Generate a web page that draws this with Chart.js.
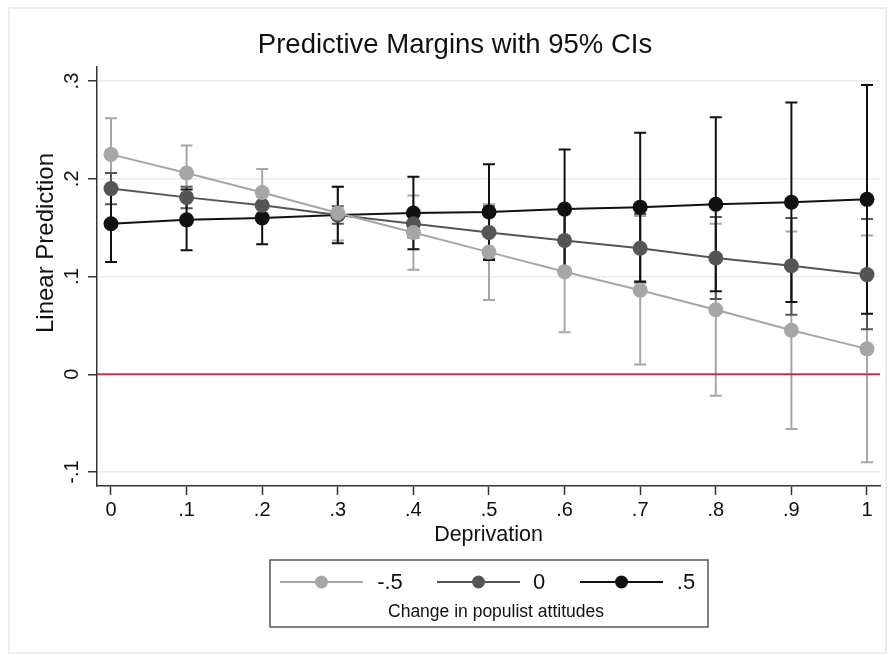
<!DOCTYPE html>
<html>
<head>
<meta charset="utf-8">
<script src="https://cdn.jsdelivr.net/npm/chart.js@4.4.1/dist/chart.umd.min.js"></script>
<style>
    html, body { margin: 0; padding: 0; background: #ffffff; }
    #wrap { width: 892px; height: 655px; }
</style>
</head>
<body>
<div id="wrap"><canvas id="marginsChart" width="892" height="655"></canvas></div>
<script>
// Deprivation values on the x axis
const deprivation = [0, 0.1, 0.2, 0.3, 0.4, 0.5, 0.6, 0.7, 0.8, 0.9, 1];
const xTickLabels = ['0', '.1', '.2', '.3', '.4', '.5', '.6', '.7', '.8', '.9', '1'];
const yTickValues = [-0.1, 0, 0.1, 0.2, 0.3];
const yTickLabels = ['-.1', '0', '.1', '.2', '.3'];

// Change in populist attitudes = -.5
const minusHalf = [0.225, 0.206, 0.186, 0.165, 0.145, 0.125, 0.105, 0.086, 0.066, 0.045, 0.026];
const minusHalfLow = [0.188, 0.178, 0.162, 0.137, 0.107, 0.076, 0.043, 0.010, -0.022, -0.056, -0.090];
const minusHalfHigh = [0.262, 0.234, 0.210, 0.192, 0.183, 0.174, 0.167, 0.162, 0.154, 0.146, 0.142];

// Change = 0
const zero = [0.190, 0.181, 0.173, 0.163, 0.154, 0.145, 0.137, 0.129, 0.119, 0.111, 0.102];
const zeroLow = [0.174, 0.170, 0.163, 0.154, 0.140, 0.118, 0.105, 0.094, 0.077, 0.061, 0.046];
const zeroHigh = [0.206, 0.192, 0.183, 0.172, 0.168, 0.172, 0.169, 0.164, 0.161, 0.160, 0.159];

// Change = .5
const plusHalf = [0.154, 0.158, 0.160, 0.163, 0.165, 0.166, 0.169, 0.171, 0.174, 0.176, 0.179];
const plusHalfLow = [0.115, 0.127, 0.133, 0.134, 0.128, 0.117, 0.108, 0.095, 0.085, 0.074, 0.062];
const plusHalfHigh = [0.193, 0.189, 0.187, 0.192, 0.202, 0.215, 0.230, 0.247, 0.263, 0.278, 0.296];

const seriesLabels = ['-.5', '0', '.5'];
const seriesColors = ['#a6a6a6', '#555555', '#111111'];
const FONT = "'Liberation Sans', Arial, Helvetica, sans-serif";

function toPoints(values) {
    return deprivation.map((x, i) => ({ x: x, y: values[i] }));
}

function makeDataset(label, values, low, high, color) {
    return {
        label: label,
        data: toPoints(values),
        ciLow: low,
        ciHigh: high,
        borderColor: color,
        backgroundColor: color,
        pointBackgroundColor: color,
        pointBorderColor: color,
        borderWidth: 2,
        pointRadius: 7.5,
        pointBorderWidth: 0,
        tension: 0,
    };
}

// confidence interval bars, drawn under the lines
const ciBars = {
    id: 'ciBars',
    beforeDatasetsDraw(chart) {
        const ctx = chart.ctx;
        const xs = chart.scales.x;
        const ys = chart.scales.y;
        ctx.save();
        chart.data.datasets.forEach(ds => {
            ctx.strokeStyle = ds.borderColor;
            ctx.lineWidth = 2;
            deprivation.forEach((d, i) => {
                const px = xs.getPixelForValue(d);
                const top = ys.getPixelForValue(ds.ciHigh[i]);
                const bottom = ys.getPixelForValue(ds.ciLow[i]);
                ctx.beginPath();
                ctx.moveTo(px, top);
                ctx.lineTo(px, bottom);
                ctx.moveTo(px - 6, top);
                ctx.lineTo(px + 6, top);
                ctx.moveTo(px - 6, bottom);
                ctx.lineTo(px + 6, bottom);
                ctx.stroke();
            });
        });
        // red reference line at zero
        const y0 = ys.getPixelForValue(0);
        ctx.strokeStyle = '#c8304e';
        ctx.lineWidth = 2;
        ctx.beginPath();
        ctx.moveTo(chart.chartArea.left, y0);
        ctx.lineTo(chart.chartArea.right, y0);
        ctx.stroke();
        ctx.restore();
    }
};

// frame, title, rotated y labels, y title and the legend box
const decorations = {
    id: 'decorations',
    beforeDraw(chart) {
        const ctx = chart.ctx;
        ctx.save();
        ctx.fillStyle = '#ffffff';
        ctx.fillRect(0, 0, chart.width, chart.height);
        ctx.strokeStyle = '#e8f0f0';
        ctx.lineWidth = 2;
        ctx.strokeRect(9, 8, 877, 645);
        ctx.restore();
    },
    afterDraw(chart) {
        const ctx = chart.ctx;
        const ys = chart.scales.y;
        ctx.save();
        ctx.fillStyle = '#111111';
        ctx.textAlign = 'center';
        ctx.textBaseline = 'middle';

        ctx.font = '27.5px ' + FONT;
        ctx.fillText('Predictive Margins with 95% CIs', 455, 45);

        ctx.font = '20px ' + FONT;
        yTickValues.forEach((v, i) => {
            ctx.save();
            ctx.translate(72, ys.getPixelForValue(v));
            ctx.rotate(-Math.PI / 2);
            ctx.fillText(yTickLabels[i], 0, 0);
            ctx.restore();
        });
        ctx.save();
        ctx.translate(46, 243);
        ctx.rotate(-Math.PI / 2);
        ctx.font = '24px ' + FONT;
        ctx.fillText('Linear Prediction', 0, 0);
        ctx.restore();

        // legend
        ctx.strokeStyle = '#555555';
        ctx.lineWidth = 1.5;
        ctx.strokeRect(270, 560, 438, 67);
        const items = [
            { x1: 280, x2: 363, label: 390 },
            { x1: 437, x2: 520, label: 539 },
            { x1: 580, x2: 663, label: 686 },
        ];
        items.forEach((it, i) => {
            ctx.strokeStyle = seriesColors[i];
            ctx.fillStyle = seriesColors[i];
            ctx.lineWidth = 2;
            ctx.beginPath();
            ctx.moveTo(it.x1, 582);
            ctx.lineTo(it.x2, 582);
            ctx.stroke();
            ctx.beginPath();
            ctx.arc((it.x1 + it.x2) / 2, 582, 6.5, 0, Math.PI * 2);
            ctx.fill();
            ctx.fillStyle = '#111111';
            ctx.font = '22px ' + FONT;
            ctx.fillText(seriesLabels[i], it.label, 583);
        });
        ctx.font = '17.5px ' + FONT;
        ctx.fillText('Change in populist attitudes', 496, 612);
        ctx.restore();
    }
};

document.addEventListener('DOMContentLoaded', () => {
    const canvas = document.getElementById('marginsChart');

    const config = {
        type: 'line',
        data: {
            datasets: [
                makeDataset(seriesLabels[0], minusHalf, minusHalfLow, minusHalfHigh, seriesColors[0]),
                makeDataset(seriesLabels[1], zero, zeroLow, zeroHigh, seriesColors[1]),
                makeDataset(seriesLabels[2], plusHalf, plusHalfLow, plusHalfHigh, seriesColors[2]),
            ],
        },
        options: {
            responsive: false,
            animation: false,
            layout: { padding: { left: 0, right: 12, top: 67, bottom: 99 } },
            plugins: {
                legend: { display: false },
                tooltip: { enabled: false },
                title: { display: false },
            },
            scales: {
                x: {
                    type: 'linear',
                    min: -0.0185,
                    max: 1.0172,
                    afterBuildTicks: s => { s.ticks = deprivation.map(v => ({ value: v })); },
                    afterFit: s => { s.height = 70; },
                    ticks: {
                        color: '#111111',
                        font: { family: FONT, size: 20 },
                        padding: 3,
                        maxRotation: 0,
                        callback: (v, i) => xTickLabels[i],
                    },
                    grid: {
                        drawOnChartArea: false,
                        drawTicks: true,
                        tickLength: 9,
                        tickColor: '#333333',
                        tickWidth: 1.5,
                    },
                    border: { display: true, color: '#333333', width: 1.5 },
                    title: {
                        display: true,
                        text: 'Deprivation',
                        color: '#111111',
                        font: { family: FONT, size: 21.5 },
                        padding: { top: 0, bottom: 8 },
                    },
                },
                y: {
                    type: 'linear',
                    min: -0.1143,
                    max: 0.3144,
                    afterBuildTicks: s => { s.ticks = yTickValues.map(v => ({ value: v })); },
                    afterFit: s => { s.width = 97; },
                    ticks: { display: false },
                    grid: {
                        color: '#e6eded',
                        lineWidth: 1.5,
                        drawTicks: true,
                        tickLength: 9,
                        tickColor: '#333333',
                        tickWidth: 1.5,
                    },
                    border: { display: true, color: '#333333', width: 1.5 },
                },
            },
        },
        plugins: [decorations, ciBars],
    };

    new Chart(canvas, config);
});
</script>
</body>
</html>
